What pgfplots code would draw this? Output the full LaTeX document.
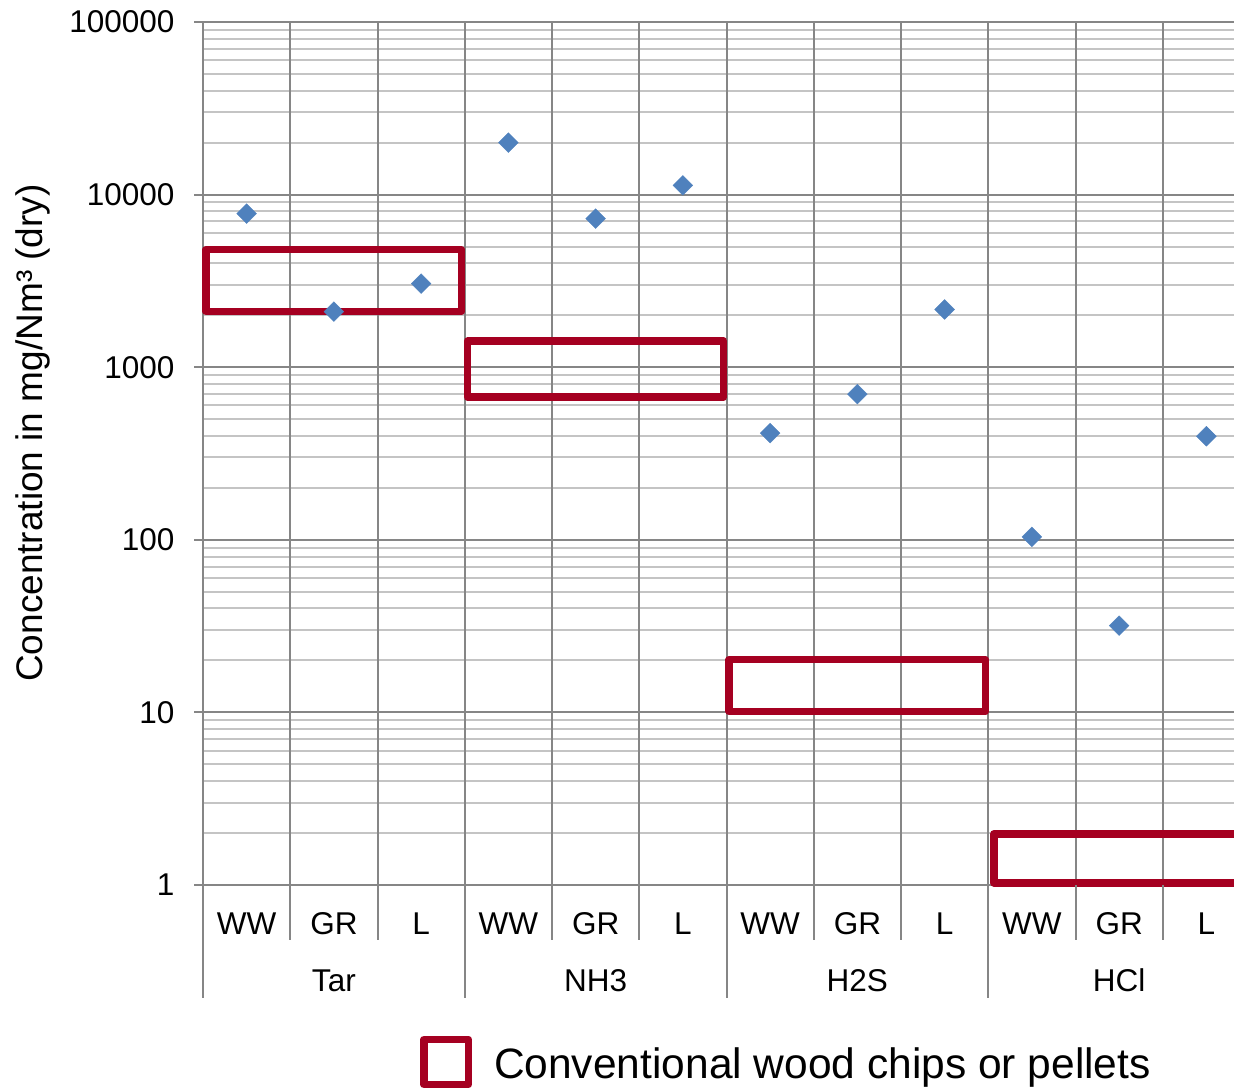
\documentclass[border=0pt]{standalone}
\usepackage{fontspec}
\setmainfont{Liberation Sans}
\usepackage{pgfplots}
\pgfplotsset{compat=1.18}
\definecolor{boxred}{RGB}{165,0,33}
\definecolor{markblue}{RGB}{79,129,189}
\definecolor{gridmaj}{RGB}{134,134,134}
\definecolor{gridmin}{RGB}{196,196,196}
\begin{document}
\begin{tikzpicture}
\path[use as bounding box] (0,0) rectangle (1234pt,1089pt);
\begin{axis}[
  at={(203pt,204pt)}, anchor=south west,
  scale only axis, width=1047pt, height=863pt,
  xmin=-0.5, xmax=11.5, ymin=1, ymax=100000,
  ymode=log, log basis y=10,
  clip=false,
  axis x line*=bottom, axis y line*=left,
  axis line style={-, draw=gridmaj, line width=2pt},
  xtick={0,...,11},
  xticklabels={WW,GR,L,WW,GR,L,WW,GR,L,WW,GR,L},
  xtick style={draw=none},
  extra x ticks={0.5,1.5,2.5,3.5,4.5,5.5,6.5,7.5,8.5,9.5,10.5},
  extra x tick labels={},
  extra x tick style={grid=major},
  ytick={1,10,100,1000,10000,100000},
  yticklabels={1,10,100,1000,10000,100000},
  minor ytick={2,3,4,5,6,7,8,9,20,30,40,50,60,70,80,90,200,300,400,500,600,700,800,900,2000,3000,4000,5000,6000,7000,8000,9000,20000,30000,40000,50000,60000,70000,80000,90000},
  ymajorgrids=true, yminorgrids=true,
  major grid style={draw=gridmaj, line width=2pt},
  minor grid style={draw=gridmin, line width=2pt},
  ytick style={draw=gridmaj, line width=2pt},
  major tick length=9pt, minor tick length=0pt, tick align=outside,
  ytick pos=left,
  tick label style={font=\fontsize{31.5}{36}\selectfont},
  /pgf/number format/assume math mode=true,
  xticklabel style={anchor=base, yshift=-41pt},
  yticklabel style={xshift=-16pt},
  ylabel={Concentration in mg/Nm³ (dry)},
  ylabel style={at={(axis description cs:-0.1624,0.5237)}, anchor=center, font=\fontsize{37}{44}\selectfont},
  legend style={draw=none, fill=none, at={(axis description cs:0.2073,-0.2051)}, anchor=west, inner sep=0pt, outer sep=0pt, font=\fontsize{42.5}{50}\selectfont,
    /tikz/every odd column/.append style={column sep=20pt}},
  legend cell align=left,
]
% red ranges for conventional wood chips or pellets
\addplot[draw=boxred, line width=7.5pt, line join=round,
  legend image code/.code={\draw[boxred, line width=7.5pt, line join=round] (3.75pt,-21pt) rectangle (48.25pt,24pt);}]
  coordinates {(-0.466,2100) (2.463,2100) (2.463,4800) (-0.466,4800)} -- cycle;
\addlegendentry{Conventional wood chips or pellets}
\addplot[draw=boxred, line width=7.5pt, line join=round, forget plot]
  coordinates {(2.531,670) (5.468,670) (5.468,1415) (2.531,1415)} -- cycle;
\addplot[draw=boxred, line width=7.5pt, line join=round, forget plot]
  coordinates {(5.531,10.1) (8.468,10.1) (8.468,20.3) (5.531,20.3)} -- cycle;
\addplot[draw=boxred, line width=7.5pt, line join=round, forget plot]
  coordinates {(8.566,1.03) (11.8,1.03) (11.8,1.98) (8.566,1.98)} -- cycle;
% measured concentrations
\addplot[only marks, mark=square*, mark size=7pt, color=markblue, mark options={rotate=45}, forget plot]
  coordinates {(0,7760) (1,2100) (2,3050) (3,20000) (4,7260) (5,11300)
               (6,415) (7,698) (8,2160) (9,104) (10,31.8) (11,398)};
% category separators below the axis
\draw[gridmaj, line width=2pt] (rel axis cs:0.083333,0) -- ++(0pt,-55pt);
\draw[gridmaj, line width=2pt] (rel axis cs:0.166667,0) -- ++(0pt,-55pt);
\draw[gridmaj, line width=2pt] (rel axis cs:0.333333,0) -- ++(0pt,-55pt);
\draw[gridmaj, line width=2pt] (rel axis cs:0.416667,0) -- ++(0pt,-55pt);
\draw[gridmaj, line width=2pt] (rel axis cs:0.583333,0) -- ++(0pt,-55pt);
\draw[gridmaj, line width=2pt] (rel axis cs:0.666667,0) -- ++(0pt,-55pt);
\draw[gridmaj, line width=2pt] (rel axis cs:0.833333,0) -- ++(0pt,-55pt);
\draw[gridmaj, line width=2pt] (rel axis cs:0.916667,0) -- ++(0pt,-55pt);
\draw[gridmaj, line width=2pt] (rel axis cs:0,0) -- ++(0pt,-113pt);
\draw[gridmaj, line width=2pt] (rel axis cs:0.25,0) -- ++(0pt,-113pt);
\draw[gridmaj, line width=2pt] (rel axis cs:0.5,0) -- ++(0pt,-113pt);
\draw[gridmaj, line width=2pt] (rel axis cs:0.75,0) -- ++(0pt,-113pt);
% group names
\node[anchor=base, yshift=-107pt, font=\fontsize{31.5}{36}\selectfont] at (rel axis cs:0.125,0) {Tar};
\node[anchor=base, yshift=-107pt, font=\fontsize{31.5}{36}\selectfont] at (rel axis cs:0.375,0) {NH3};
\node[anchor=base, yshift=-107pt, font=\fontsize{31.5}{36}\selectfont] at (rel axis cs:0.625,0) {H2S};
\node[anchor=base, yshift=-107pt, font=\fontsize{31.5}{36}\selectfont] at (rel axis cs:0.875,0) {HCl};
\end{axis}
\end{tikzpicture}
\end{document}
